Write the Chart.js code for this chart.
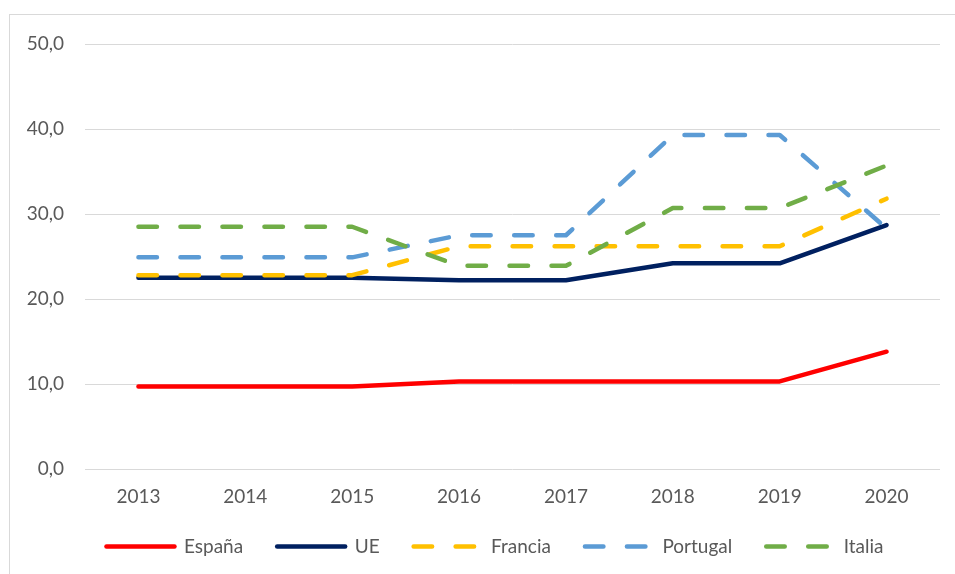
<!DOCTYPE html>
<html>
<head>
<meta charset="utf-8">
<script src="https://cdn.jsdelivr.net/npm/chart.js@4.4.0/dist/chart.umd.min.js"></script>
<style>
    html, body { margin: 0; padding: 0; background: #fff; }
    #wrap { position: relative; width: 955px; height: 574px; overflow: hidden; }
    #frame { position: absolute; left: 9px; top: 14px; width: 1000px; height: 600px; border: 1px solid #d9d9d9; box-sizing: border-box; }
    #chart { position: absolute; left: 0; top: 0; }
</style>
</head>
<body>
<div id="wrap">
    <div id="frame"></div>
    <canvas id="chart" width="955" height="574"></canvas>
</div>
<script>
// Chart data
const years = ['2013', '2014', '2015', '2016', '2017', '2018', '2019', '2020'];
const espana = [9.7, 9.7, 9.7, 10.3, 10.3, 10.3, 10.3, 13.8];
const ue = [22.5, 22.5, 22.5, 22.2, 22.2, 24.2, 24.2, 28.7];
const francia = [22.8, 22.8, 22.8, 26.2, 26.2, 26.2, 26.2, 31.8];
const portugal = [24.9, 24.9, 24.9, 27.5, 27.5, 39.3, 39.3, 28.3];
const italia = [28.5, 28.5, 28.5, 23.9, 23.9, 30.7, 30.7, 35.7];
const yTicks = [0, 10, 20, 30, 40, 50];

const textColor = '#595959';
const gridColor = '#d9d9d9';
const dash = [18.5, 23.5];

// Build one line series
function makeSeries(label, data, color, dashed, order) {
    return {
        label: label,
        data: data,
        borderColor: color,
        backgroundColor: color,
        borderWidth: 4.5,
        borderDash: dashed ? dash : [],
        borderCapStyle: 'round',
        borderJoinStyle: 'round',
        pointRadius: 0,
        pointHoverRadius: 0,
        tension: 0,
        fill: false,
        order: order
    };
}

// Legend entries keep the dash pattern of their line
function legendLabels(chart) {
    const items = Chart.defaults.plugins.legend.labels.generateLabels(chart);
    items.forEach(item => {
        const ds = chart.data.datasets[item.datasetIndex];
        item.lineDash = ds.borderDash;
        item.lineWidth = ds.borderWidth;
        item.lineCap = 'round';
        item.strokeStyle = ds.borderColor;
    });
    return items;
}

// Nudge the legend a bit to the right, like in the original
const legendShift = {
    id: 'legendShift',
    afterLayout(chart) {
        chart.legend.left += 15;
        chart.legend.right += 15;
    }
};

const ctx = document.getElementById('chart').getContext('2d');
new Chart(ctx, {
    type: 'line',
    data: {
        labels: years,
        datasets: [
            makeSeries('España', espana, '#ff0000', false, 4),
            makeSeries('UE', ue, '#002060', false, 3),
            makeSeries('Francia', francia, '#ffc000', true, 2),
            makeSeries('Portugal', portugal, '#5b9bd5', true, 1),
            makeSeries('Italia', italia, '#70ad47', true, 0)
        ]
    },
    options: {
        responsive: false,
        animation: false,
        layout: { padding: { left: 20, right: 15, top: 44, bottom: 8 } },
        scales: {
            x: {
                offset: true,
                grid: { display: false, drawTicks: false },
                border: { display: false },
                ticks: { color: textColor, font: { family: 'Lato', size: 19 }, padding: 16, maxRotation: 0 },
                afterFit: s => { s.height = 34; }
            },
            y: {
                min: 0,
                max: 50,
                afterBuildTicks: s => { s.ticks = yTicks.map(v => ({ value: v })); },
                grid: { color: gridColor, lineWidth: 1, drawTicks: false },
                border: { display: false },
                ticks: {
                    color: textColor,
                    font: { family: 'Lato', size: 19 },
                    padding: 21,
                    callback: v => v.toFixed(1).replace('.', ',')
                },
                afterFit: s => { s.width = 65; }
            }
        },
        plugins: {
            legend: {
                position: 'bottom',
                labels: {
                    usePointStyle: true,
                    pointStyle: 'line',
                    pointStyleWidth: 68,
                    boxHeight: 19,
                    padding: 34,
                    color: textColor,
                    font: { family: 'Lato', size: 19 },
                    generateLabels: legendLabels,
                    sort: (a, b) => a.datasetIndex - b.datasetIndex
                }
            },
            tooltip: { enabled: false }
        }
    },
    plugins: [legendShift]
});
</script>
</body>
</html>
